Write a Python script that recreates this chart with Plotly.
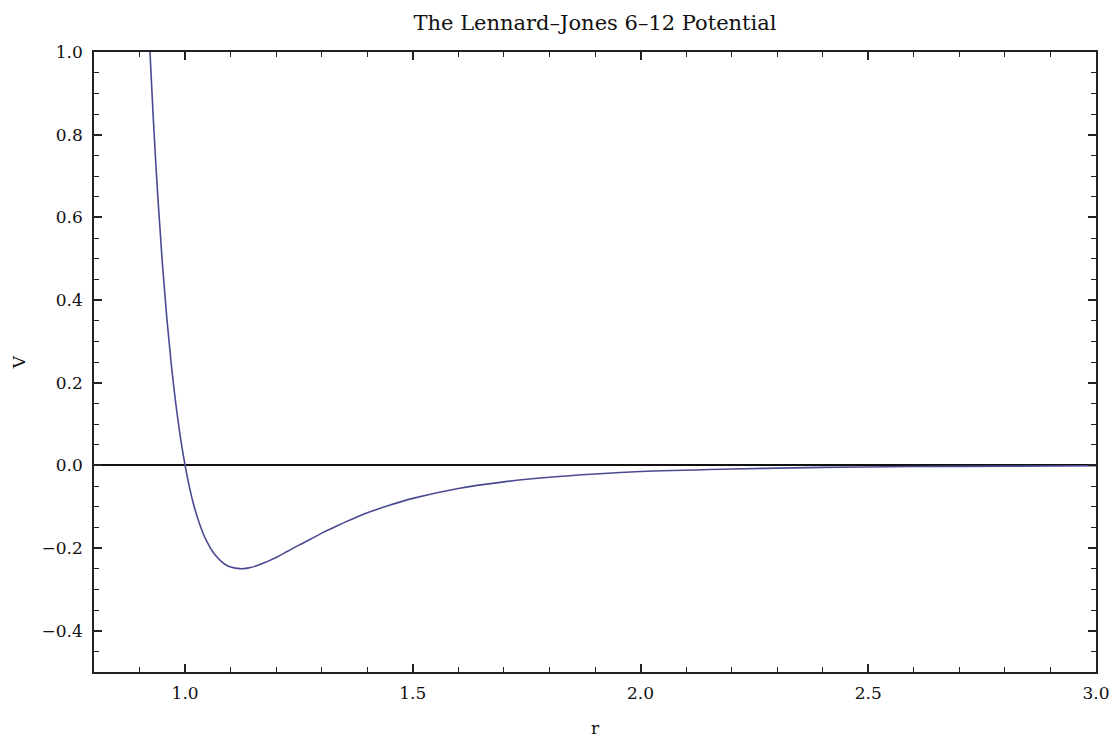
import plotly.graph_objects as go

# Values
r_vals = [0.9229, 0.93, 0.94, 0.95, 0.96, 0.97, 0.98, 0.99, 1.00, 1.01, 1.02, 1.03,
          1.04, 1.05, 1.06, 1.07, 1.08, 1.09, 1.10, 1.12, 1.14, 1.16, 1.18, 1.20,
          1.225, 1.25, 1.275, 1.30, 1.325, 1.35, 1.375, 1.40, 1.45, 1.50, 1.60, 1.70,
          1.80, 1.90, 2.00, 2.20, 2.40, 2.60, 2.80, 3.00]
v_vals = [1.000, 0.843, 0.652, 0.490, 0.355, 0.241, 0.146, 0.066, 0.000, -0.055, -0.100, -0.136,
          -0.166, -0.189, -0.208, -0.222, -0.233, -0.241, -0.246, -0.250, -0.248, -0.242, -0.233, -0.223,
          -0.208, -0.193, -0.179, -0.164, -0.151, -0.138, -0.126, -0.115, -0.096, -0.080, -0.056, -0.040,
          -0.029, -0.021, -0.015, -0.009, -0.005, -0.003, -0.002, -0.001]

title_text = "The Lennard\u2013Jones 6\u201312 Potential"
x_label = "r"
y_label = "V"
x_ticks = [1.0, 1.5, 2.0, 2.5, 3.0]
x_ticklabels = ["1.0", "1.5", "2.0", "2.5", "3.0"]
y_ticks = [-0.4, -0.2, 0.0, 0.2, 0.4, 0.6, 0.8, 1.0]
y_ticklabels = ["\u22120.4", "\u22120.2", "0.0", "0.2", "0.4", "0.6", "0.8", "1.0"]

font_family = "DejaVu Serif, Liberation Serif, serif"

fig = go.Figure()
fig.add_trace(go.Scatter(x=r_vals, y=v_vals, mode="lines",
                         line=dict(color="#4a4a92", width=1.6, shape="spline"),
                         showlegend=False, hoverinfo="skip"))

fig.update_layout(
    width=1113, height=740,
    margin=dict(l=94, r=17, t=52, b=68),
    paper_bgcolor="white", plot_bgcolor="white",
    title=dict(text=title_text, xref="paper", x=0.5, xanchor="center",
               yref="container", y=0.969, yanchor="middle",
               font=dict(family=font_family, size=21, color="#111111")),
    font=dict(family=font_family, size=17, color="#111111"),
)
fig.update_xaxes(
    range=[0.8, 3.0], showgrid=False, zeroline=False, automargin=False,
    showline=True, linecolor="#222222", linewidth=1.6, mirror="ticks",
    ticks="inside", ticklen=8, tickwidth=1.5, tickcolor="#222222",
    tickvals=x_ticks, ticktext=x_ticklabels,
    tickfont=dict(family=font_family, size=17, color="#111111"),
    ticklabelstandoff=5,
    minor=dict(ticks="inside", dtick=0.1, tick0=0.8, ticklen=5, tickwidth=1.3,
               tickcolor="#222222", showgrid=False),
    title=dict(text=x_label, font=dict(family=font_family, size=17, color="#111111"), standoff=20),
)
fig.update_yaxes(
    range=[-0.5, 1.0], showgrid=False, zeroline=True, zerolinecolor="#111111", zerolinewidth=1.6,
    automargin=False,
    showline=True, linecolor="#222222", linewidth=1.6, mirror="ticks",
    ticks="inside", ticklen=8, tickwidth=1.5, tickcolor="#222222",
    tickvals=y_ticks, ticktext=y_ticklabels,
    tickfont=dict(family=font_family, size=17, color="#111111"),
    ticklabelstandoff=6,
    minor=dict(ticks="inside", dtick=0.05, tick0=0.0, ticklen=5, tickwidth=1.3,
               tickcolor="#222222", showgrid=False),
    title=dict(text=y_label, font=dict(family=font_family, size=17, color="#111111"), standoff=12),
)

fig.write_html("out.html")
